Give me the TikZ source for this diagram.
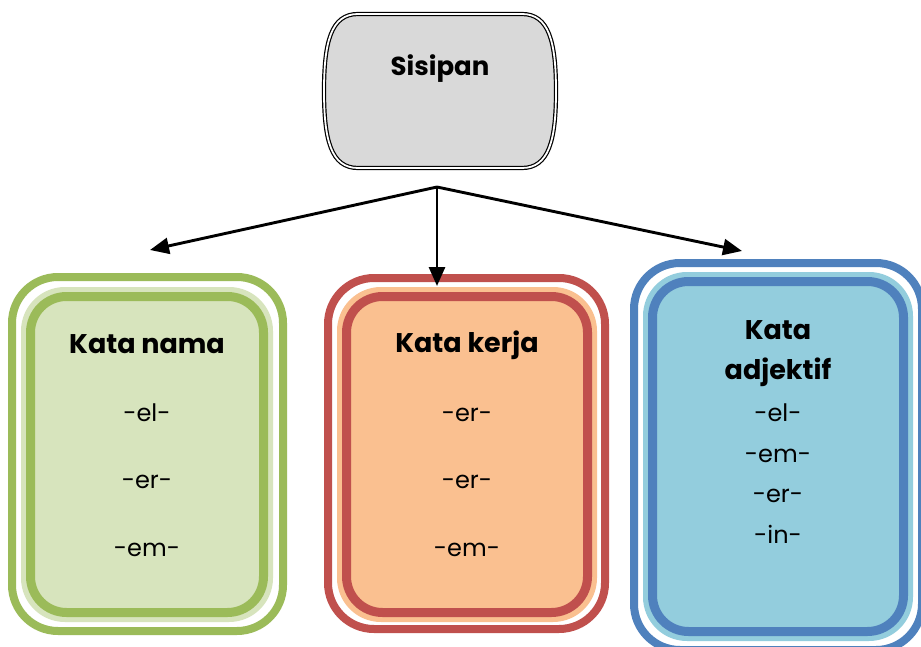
\documentclass[tikz,border=0pt]{standalone}
\usepackage{fontspec}
\setmainfont{Poppins}
\usetikzlibrary{arrows.meta, positioning}

\definecolor{topgray}{HTML}{D9D9D9}
\definecolor{greenline}{HTML}{9BBB59}
\definecolor{greenfill}{HTML}{D7E4BD}
\definecolor{redline}{HTML}{C0504D}
\definecolor{redfill}{HTML}{FAC090}
\definecolor{blueline}{HTML}{4F81BD}
\definecolor{bluefill}{HTML}{93CDDD}

\begin{document}
\begin{tikzpicture}[x=1pt, y=-1pt]
    % Define styles for frames, texts and arrows
    \tikzset{
        branch/.style={line width=2.9pt, -{Triangle[length=19pt, width=16pt]}},
        heading/.style={anchor=base, font=\fontsize{27}{31}\selectfont\bfseries},
        infix/.style={anchor=base, font=\fontsize{24}{28}\selectfont},
        outerframe/.style={line width=8pt, fill=white, rounded corners=46pt},
        ringfill/.style={rounded corners=44pt},
        innerframe/.style={line width=9pt, rounded corners=36pt}
    }
    \useasboundingbox (0,0) rectangle (921,647);

    % TOP BOX: Sisipan
    \draw[line width=1.2pt, double=white, double distance=1.8pt, fill=topgray]
        (358,14) -- (522,14) .. controls (549,14) and (556,42) .. (556,91)
        .. controls (556,140) and (549,168) .. (522,168) -- (358,168)
        .. controls (331,168) and (324,140) .. (324,91)
        .. controls (324,42) and (331,14) .. (358,14) -- cycle;
    \node[heading, font=\fontsize{26}{30}\selectfont\bfseries] (sisipan) at (440,76) {Sisipan};

    % LEFT BOX: Kata nama
    \begin{scope}
        \draw[outerframe, draw=greenline] (12,277) rectangle (283,631);
        \fill[greenfill, ringfill] (21,287) rectangle (273,622);
        \draw[innerframe, draw=greenline, fill=greenfill] (30.5,296.5) rectangle (263.5,612.5);
        \node[heading] (nama) at (147,353) {Kata nama};
        \node[infix] (nama_el) at (147,421) {-el-};
        \node[infix] (nama_er) at (147,488) {-er-};
        \node[infix] (nama_em) at (147,556) {-em-};
    \end{scope}

    % MIDDLE BOX: Kata kerja
    \begin{scope}
        \draw[outerframe, draw=redline] (328,278) rectangle (605,629);
        \fill[redfill, ringfill] (337,287) rectangle (597,622);
        \draw[innerframe, draw=redline, fill=redfill] (346.5,296.5) rectangle (587.5,612.5);
        \node[heading] (kerja) at (467,352) {Kata kerja};
        \node[infix] (kerja_er1) at (467,421) {-er-};
        \node[infix] (kerja_er2) at (467,488) {-er-};
        \node[infix] (kerja_em) at (467,556) {-em-};
    \end{scope}

    % RIGHT BOX: Kata adjektif
    \begin{scope}
        \draw[outerframe, draw=blueline] (634,263) rectangle (922,650);
        \fill[bluefill, ringfill] (643,272) rectangle (913,641);
        \draw[innerframe, draw=blueline, fill=bluefill] (652.5,281.5) rectangle (903.5,631.5);
        \node[heading] (adj1) at (778,339) {Kata};
        \node[heading] (adj2) at (778,379) {adjektif};
        \node[infix] (adj_el) at (778,421) {-el-};
        \node[infix] (adj_em) at (778,462) {-em-};
        \node[infix] (adj_er) at (778,502) {-er-};
        \node[infix] (adj_in) at (778,543) {-in-};
    \end{scope}

    % Arrows
    \coordinate (hub) at (437,187);
    \coordinate (tip_nama) at (150,250);
    \coordinate (tip_kerja) at (437,286);
    \coordinate (tip_adj) at (742,251);
    \draw[branch] (hub) -- (tip_nama);
    \draw[branch] (hub) -- (tip_kerja);
    \draw[branch] (hub) -- (tip_adj);

\end{tikzpicture}
\end{document}
